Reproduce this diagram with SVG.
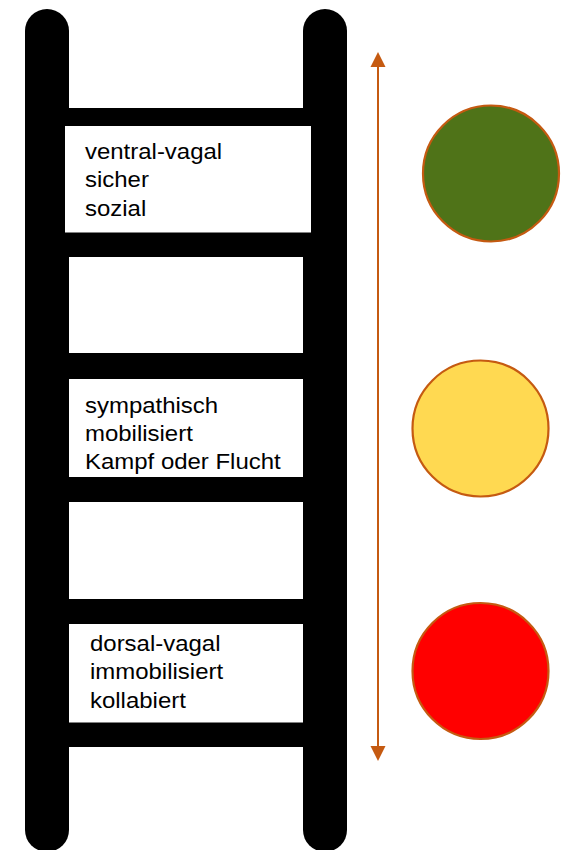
<svg xmlns="http://www.w3.org/2000/svg" width="563" height="850" viewBox="0 0 563 850">
  <style>
    .rail { fill: #000; }
    .gap { fill: #fff; }
    .box { fill: #fff; }
    .label { font-family: "Liberation Sans", Arial, sans-serif; font-size: 22.5px; fill: #000; }
    .lamp { stroke: #c55a11; stroke-width: 2.2; }
    .scale { stroke: #c55a11; stroke-width: 2; fill: none; }
  </style>
  <defs>
    <filter id="soft" x="-5%" y="-5%" width="110%" height="110%">
      <feGaussianBlur stdDeviation="0.7"/>
    </filter>
    <marker id="head" viewBox="0 0 15 16" refX="0" refY="8" markerWidth="15" markerHeight="16" markerUnits="userSpaceOnUse" orient="auto-start-reverse">
      <path d="M0,0.5 L15,8 L0,15.5 Z" fill="#c55a11"/>
    </marker>
  </defs>

  <!-- ladder: rails, rung block and open gaps -->
  <g id="ladder" filter="url(#soft)">
    <rect class="rail" x="25" y="9" width="44" height="843" rx="22"/>
    <rect class="rail" x="303" y="9" width="44" height="843" rx="22"/>
    <rect class="rail" x="68" y="108" width="236" height="639"/>
    <rect class="gap" x="69" y="257" width="234" height="96"/>
    <rect class="gap" x="69" y="502" width="234" height="97"/>
    <rect class="box" x="69" y="379" width="234" height="98"/>
    <rect class="box" x="69" y="624" width="234" height="98.5"/>
  </g>

  <!-- state boxes on the ladder -->
  <g id="ventral">
    <rect class="box" x="65" y="126" width="246" height="106.5"/>
    <g transform="translate(85,0) scale(1.065,1)">
      <text class="label" x="0" y="159">ventral-vagal</text>
      <text class="label" x="0" y="187.5">sicher</text>
      <text class="label" x="0" y="216">sozial</text>
    </g>
  </g>
  <g id="sympathisch">
    <g transform="translate(85,0) scale(1.065,1)">
      <text class="label" x="0" y="413">sympathisch</text>
      <text class="label" x="0" y="441">mobilisiert</text>
      <text class="label" x="0" y="469.5">Kampf oder Flucht</text>
    </g>
  </g>
  <g id="dorsal">
    <g transform="translate(90,0) scale(1.065,1)">
      <text class="label" x="0" y="651">dorsal-vagal</text>
      <text class="label" x="0" y="679.5">immobilisiert</text>
      <text class="label" x="0" y="708">kollabiert</text>
    </g>
  </g>

  <!-- traffic-light indicators -->
  <g id="green"><circle class="lamp" cx="491" cy="173.5" r="68" fill="#4f7318"/></g>
  <g id="yellow"><circle class="lamp" cx="480.5" cy="428.5" r="68" fill="#ffd951"/></g>
  <g id="red"><circle class="lamp" cx="480.5" cy="671" r="68" fill="#ff0000"/></g>

  <!-- connectors -->
  <g id="connectors">
    <line class="scale" x1="378" y1="67" x2="378" y2="746" marker-start="url(#head)" marker-end="url(#head)"/>
  </g>
</svg>
